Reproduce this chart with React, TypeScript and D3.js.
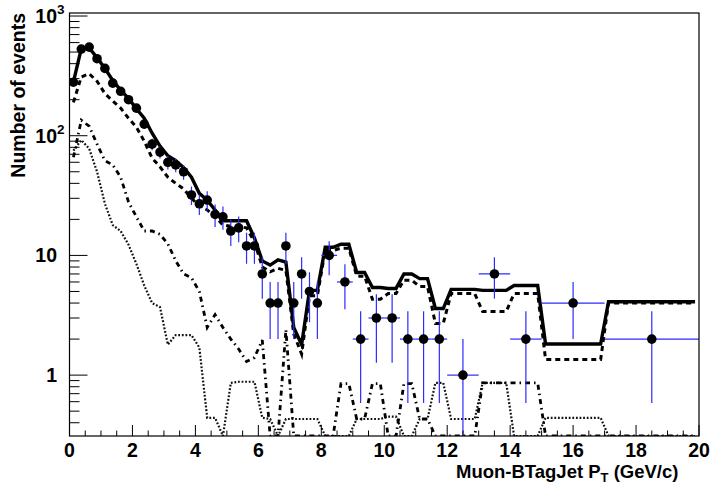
import React from "react";
import * as d3 from "d3";

// variable binning of the histogram (GeV/c)
const binEdges = [
  0, 0.25, 0.5, 0.75, 1, 1.25, 1.5, 1.75, 2, 2.25, 2.5, 2.75, 3, 3.25, 3.5, 3.75,
  4, 4.25, 4.5, 4.75, 5, 5.25, 5.5, 5.75, 6, 6.25, 6.5, 6.75, 7, 7.25, 7.5, 7.75,
  8, 8.5, 9, 9.5, 10, 10.5, 11, 11.5, 12, 13, 14, 15, 17, 20,
];

// data points (events per bin)
const dataCounts = [
  280, 530, 550, 440, 365, 275, 235, 200, 170, 125, 85, 73, 60, 57, 50, 32,
  27, 29, 22, 21, 16, 17, 12, 12, 7, 4, 4, 12, 4, 7, 5, 4,
  10, 6, 2, 3, 3, 2, 2, 2, 1, 7, 2, 4, 2,
];

// MC total (solid)
const totalMC = [
  282, 535, 540, 450, 365, 290, 240, 205, 168, 140, 105, 82, 68, 62, 54, 45,
  33, 29, 24, 19.5, 19.5, 19.5, 19.5, 14, 9, 8.3, 9.2, 8.8, 2.5, 1.8, 5.1, 5.1,
  11.7, 12.4, 7.2, 5.4, 5.3, 7.0, 6.4, 3.6, 5.2, 5.1, 5.6, 1.82, 4.1,
];

// main component (dashed)
const mainMC = [
  190, 310, 330, 285, 225, 195, 170, 140, 118, 90, 65, 55, 45, 40, 36, 30,
  26, 24, 21, 18, 17.5, 17.5, 17, 13, 8, 7.3, 7.8, 7.5, 2.2, 1.5, 4.6, 4.6,
  11, 11.5, 6.7, 4.3, 4.8, 6.2, 5.5, 2.7, 4.8, 3.4, 4.8, 1.35, 4.0,
];

// second component (dash-dot)
const secondMC = [
  66, 135, 120, 85, 62, 57, 45, 28, 21, 16, 16, 15, 12.5, 9, 7, 6.5,
  5, 2.5, 3.2, 2.5, 2.0, 1.65, 1.3, 1.4, 1.96, 0, 0, 2.4, 0, 0, 0, 0,
  0, 0.85, 0.43, 0.85, 0, 0.85, 0.43, 0, 0, 0.86, 0.86, 0, 0,
];

// third component (dotted)
const thirdMC = [
  75, 92, 78, 50, 27, 17.9, 16, 12.3, 8.5, 5.6, 4.0, 3.7, 1.8, 2.16, 2.16, 2.16,
  1.7, 0.44, 0.44, 0, 0.86, 0.88, 0.88, 0.88, 0.44, 0.43, 0, 0.43, 0.43, 0.43, 0.43, 0.43,
  0, 0, 0.43, 0.43, 0.45, 0, 0.43, 0.86, 0.43, 0.86, 0, 0.44, 0,
];

const xTickLabels = ["0", "2", "4", "6", "8", "10", "12", "14", "16", "18", "20"];
const yDecades = [1, 10, 100, 1000];
const yDecadeExp = ["", "", "2", "3"];

const W = 712;
const H = 489;
const font = "'Liberation Sans', Arial, Helvetica, sans-serif";

export default function App() {
  const left = 69.5, right = 699, top = 13, bottom = 436;
  const x = d3.scaleLinear().domain([0, 20]).range([left, right]);
  const y = d3.scaleLog().domain([0.31, 1060]).range([bottom, top]).clamp(true);
  const yv = (v: number) => (v > 0 ? y(v) : bottom);

  // histogram drawn as polyline through the 0.25-wide sub-bin centres
  const curve = (vals: number[]) => {
    const pts: [number, number][] = [];
    vals.forEach((v, i) => {
      d3.range(binEdges[i] + 0.125, binEdges[i + 1], 0.25).forEach((s) => {
        pts.push([x(s), yv(v)]);
      });
    });
    return d3.line()(pts) || "";
  };

  const xMinor = d3.range(0, 20.001, 0.5);
  const yMinor: number[] = [];
  [0.1, 1, 10, 100].forEach((d) => {
    d3.range(2, 10).forEach((k) => {
      const v = k * d;
      if (v >= 0.31 && v <= 1060) yMinor.push(v);
    });
  });

  return (
    <svg
      width={W}
      height={H}
      style={{ position: "absolute", left: 0, top: 0, background: "#fff" }}
      fontFamily={font}
      fontWeight="bold"
    >
      <defs>
        <clipPath id="plot">
          <rect x={left} y={top} width={right - left} height={bottom - top} />
        </clipPath>
      </defs>
      <rect width={W} height={H} fill="#fff" />

      <g clipPath="url(#plot)" fill="none" stroke="#000" strokeLinejoin="miter">
        <path d={curve(thirdMC)} strokeWidth={2.2} strokeDasharray="1.8,1.8" stroke="#111" />
        <path d={curve(secondMC)} strokeWidth={2.8} strokeDasharray="5,4,1.5,4" />
        <path d={curve(mainMC)} strokeWidth={3} strokeDasharray="5,4" />
        <path d={curve(totalMC)} strokeWidth={3.4} />
      </g>

      <g clipPath="url(#plot)">
        {dataCounts.map((n, i) => {
          const cx = x((binEdges[i] + binEdges[i + 1]) / 2);
          const err = Math.sqrt(n);
          return (
            <g key={i}>
              <line
                x1={cx}
                x2={cx}
                y1={yv(n + err)}
                y2={yv(n - err)}
                stroke="#2b2bff"
                strokeWidth={1.2}
              />
              <line
                x1={x(binEdges[i])}
                x2={x(binEdges[i + 1])}
                y1={yv(n)}
                y2={yv(n)}
                stroke="#2b2bff"
                strokeWidth={1.2}
              />
              <circle cx={cx} cy={yv(n)} r={4.8} fill="#000" />
            </g>
          );
        })}
      </g>

      {/* frame */}
      <rect
        x={left}
        y={top}
        width={right - left}
        height={bottom - top}
        fill="none"
        stroke="#000"
        strokeWidth={1.2}
      />

      {/* x ticks */}
      {xMinor.map((t, i) => {
        const major = i % 4 === 0;
        return (
          <line
            key={"xt" + i}
            x1={x(t)}
            x2={x(t)}
            y1={bottom}
            y2={bottom - (major ? 11 : 5.5)}
            stroke="#000"
            strokeWidth={1}
          />
        );
      })}
      {xTickLabels.map((l, i) => (
        <text key={"xl" + i} x={x(+l)} y={457} fontSize={19.5} textAnchor="middle">
          {l}
        </text>
      ))}
      <text x={456} y={478} fontSize={18.5} textAnchor="start">
        Muon-BTagJet P
        <tspan fontSize={13} dy={4}>T</tspan>
        <tspan dy={-4}> (GeV/c)</tspan>
      </text>

      {/* y ticks */}
      {yMinor.map((v, i) => (
        <line
          key={"ym" + i}
          x1={left}
          x2={left + 10}
          y1={y(v)}
          y2={y(v)}
          stroke="#000"
          strokeWidth={1}
        />
      ))}
      {yDecades.map((v, i) => (
        <g key={"yd" + i}>
          <line x1={left} x2={left + 18} y1={y(v)} y2={y(v)} stroke="#000" strokeWidth={1} />
          <text x={57} y={y(v) + 7} fontSize={19.5} textAnchor="end">
            {v === 1 ? "1" : "10"}
          </text>
          {yDecadeExp[i] && (
            <text x={57} y={y(v) - 2} fontSize={13.5} textAnchor="start">
              {yDecadeExp[i]}
            </text>
          )}
        </g>
      ))}
      <text
        transform={`translate(25, ${top}) rotate(-90)`}
        fontSize={19.5}
        textAnchor="end"
      >
        Number of events
      </text>
    </svg>
  );
}
